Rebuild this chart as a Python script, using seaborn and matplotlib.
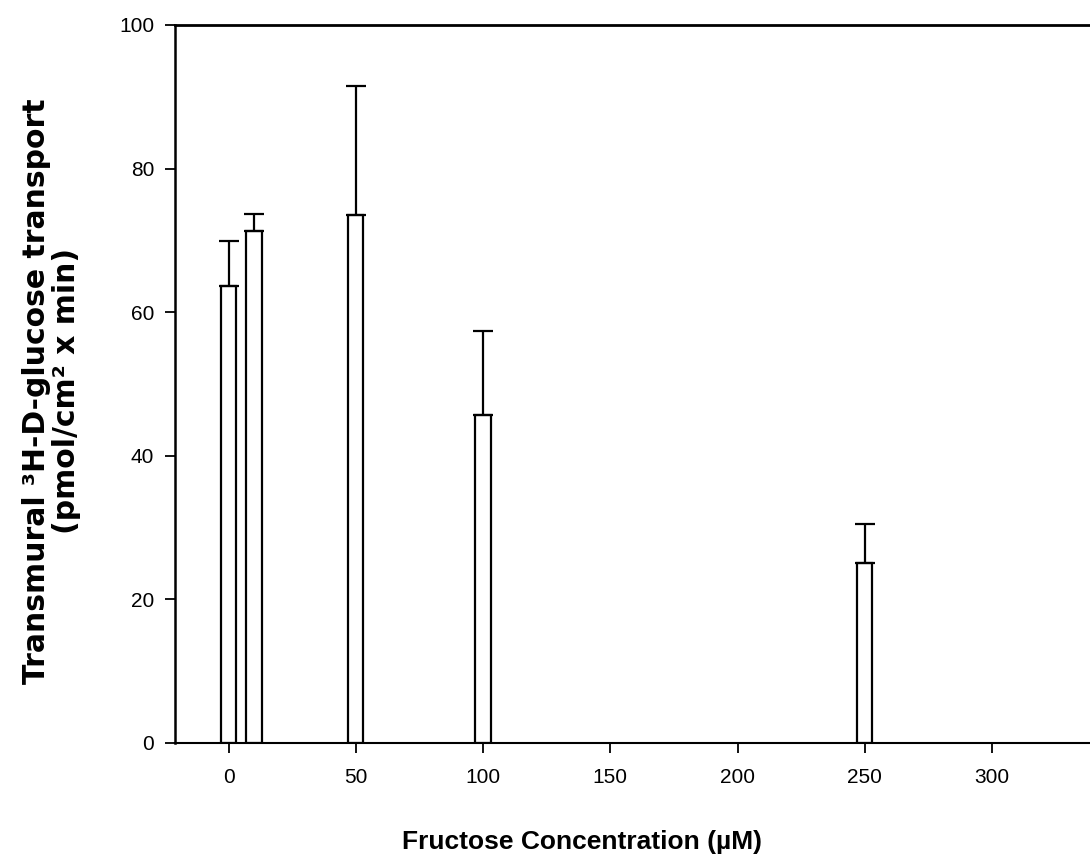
import pandas as pd
import seaborn as sns
import matplotlib.pyplot as plt

# Data
fructose_um = [0, 10, 50, 100, 250]
glucose_transport = [63.6, 71.3, 73.5, 45.7, 25.0]
sem_upper = [6.3, 2.3, 18.0, 11.6, 5.5]
x_ticks = [0, 50, 100, 150, 200, 250, 300]
y_ticks = [0, 20, 40, 60, 80, 100]

df = pd.DataFrame({"conc": fructose_um, "transport": glucose_transport})

sns.set_style("ticks")
plt.rcParams["font.family"] = ["Liberation Sans", "DejaVu Sans"]
plt.rcParams["text.color"] = "black"
plt.rcParams["axes.labelcolor"] = "black"

fig = plt.figure(figsize=(10.9, 8.65), dpi=100)
ax = fig.add_axes([0.1606, 0.1414, 0.8394, 0.8297])

# White bars with black outline, placed on the numeric concentration axis
sns.barplot(data=df, x="conc", y="transport", native_scale=True, width=0.6,
            color="white", edgecolor="black", linewidth=1.6, saturation=1,
            errorbar=None, ax=ax)

# Upper-only error bars
ax.errorbar(fructose_um, glucose_transport, yerr=[[0] * len(sem_upper), sem_upper],
            fmt="none", ecolor="black", elinewidth=1.6, capsize=7, capthick=1.6)

ax.set_xlim(-21, 338.5)
ax.set_ylim(0, 100)
ax.set_xticks(x_ticks)
ax.set_xticklabels([str(t) for t in x_ticks])
ax.set_yticks(y_ticks)

ax.tick_params(axis="both", direction="out", length=7, width=1.3,
               labelsize=15, colors="black")
ax.tick_params(axis="x", pad=11)
ax.tick_params(axis="y", pad=8)

for side in ["left", "top", "bottom"]:
    ax.spines[side].set_color("black")
ax.spines["left"].set_linewidth(1.8)
ax.spines["top"].set_linewidth(2.0)
ax.spines["bottom"].set_linewidth(1.5)
ax.spines["right"].set_visible(False)

ax.set_xlabel("Fructose Concentration (µM)", fontsize=19, fontweight="bold",
              va="center", color="black")
ax.xaxis.set_label_coords(0.445, -0.139)
ax.set_ylabel("Transmural ³H-D-glucose transport\n(pmol/cm² x min)",
              fontsize=21.5, fontweight="bold", family="DejaVu Sans",
              va="center", linespacing=1.05, color="black")
ax.yaxis.set_label_coords(-0.135, 0.49)

fig.savefig("out.png", dpi=100)
